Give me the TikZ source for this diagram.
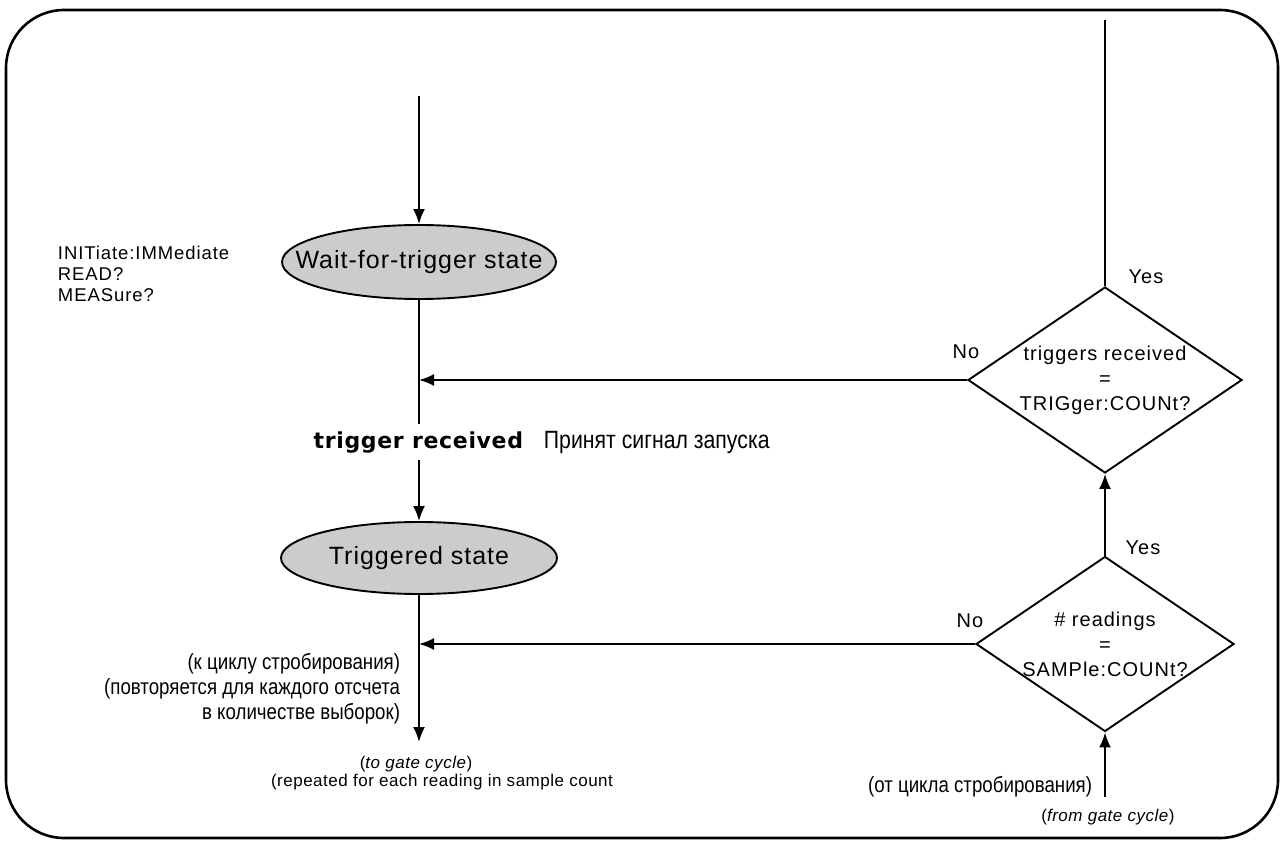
\documentclass[tikz,border=0pt]{standalone}
\usepackage{fontspec}
\setmainfont{Liberation Sans}
\newfontfamily\statefam[LetterSpace=4]{Liberation Sans}
\newfontfamily\lblfam[LetterSpace=5]{Liberation Sans}
\newfontfamily\notefam[LetterSpace=3]{Liberation Sans}
\newfontfamily\rufam[FakeStretch=0.85]{Liberation Sans}
\newfontfamily\comicfam[LetterSpace=3]{DejaVu Sans}
\usetikzlibrary{shapes.geometric,arrows.meta,positioning}

\begin{document}
\begin{tikzpicture}[x=1pt,y=-1pt,line width=1.9pt,node distance=18pt,
  every node/.style={inner sep=0pt},
  state/.style={draw,ellipse,fill=gray!40,inner xsep=-40pt,minimum width=274pt,minimum height=74pt,font=\statefam\fontsize{25}{30}\selectfont},
  query/.style={draw,diamond,minimum width=274pt,minimum height=186pt},
  qtext/.style={align=center,font=\lblfam\fontsize{20}{25}\selectfont},
  lbl/.style={font=\lblfam\fontsize{20}{23}\selectfont},
  cmd/.style={align=left,font=\lblfam\fontsize{18.5}{21}\selectfont},
  note/.style={align=center,font=\notefam\fontsize{17}{20}\selectfont},
  ru/.style={align=right,font=\rufam\fontsize{22}{25}\selectfont},
  arr/.style={-{Latex[length=15pt,width=12pt]}}]
\useasboundingbox (0,0) rectangle (1282,842);
\draw[line width=2.6pt,rounded corners=58pt] (6,10) rectangle (1278,838);
% states
\node[state] (wait) at (419,262) {Wait-for-trigger state};
\node[state,minimum width=276pt,minimum height=72pt] (trig) at (419,558) {Triggered state};
% checks
\node[query] (qtrig) at (1105,380) {};
\node[qtext] (qtrigt) at (qtrig) {triggers received\\=\\TRIGger:COUNt?};
\node[query,minimum width=258pt,minimum height=175pt] (qsamp) at (1105,644) {};
\node[qtext] (qsampt) at (qsamp) {\# readings\\=\\SAMPle:COUNt?};
\node[lbl] (yes1) at (1146,277) {Yes};
\node[lbl] (no1) at (966,352) {No};
\node[lbl] (yes2) at (1143,548) {Yes};
\node[lbl] (no2) at (970,621) {No};
% texts
\node[cmd,anchor=west] (cmds) at (57,274) {INITiate:IMMediate\\READ?\\MEASure?};
\node[anchor=east,font=\comicfam\bfseries\fontsize{22}{26}\selectfont] (trigrx) at (524,443) {trigger received};
\node[anchor=base west,font=\rufam\fontsize{25}{30}\selectfont] (trigru) at ([xshift=19pt]trigrx.base east) {Принят сигнал запуска};
\node[ru,anchor=east] (toru) at (401,689) {(к циклу стробирования)\\(повторяется для каждого отсчета\\в количестве выборок)};
\node[note] (togate) at (416,764) {(\textit{to gate cycle})};
\node[note] (torep) at (442,782) {(repeated for each reading in sample count};
\node[ru,anchor=east] (fromru) at (1093,787) {(от цикла стробирования)};
\node[note] (fromgate) at (1108,817) {(\textit{from gate cycle})};
% free ends
\coordinate (inwait) at (419,96);
\coordinate (gapa) at (419,424);
\coordinate (gapb) at (419,460);
\coordinate (outgate) at (419,742);
\coordinate (jtrig) at (419,380);
\coordinate (jsamp) at (419,644);
\coordinate (yesout) at (1105,20);
\coordinate (ingate) at (1105,797);
% connectors
\draw[arr] (inwait) -- (wait);
\draw (wait) -- (gapa);
\draw[arr] (gapb) -- (trig);
\draw[arr] (trig) -- (outgate);
\draw[arr] (qtrig) -- (jtrig);
\draw[arr] (qsamp) -- (jsamp);
\draw (qtrig) -- (yesout);
\draw[arr] (qsamp) -- (qtrig);
\draw[arr] (ingate) -- (qsamp);
\end{tikzpicture}
\end{document}
